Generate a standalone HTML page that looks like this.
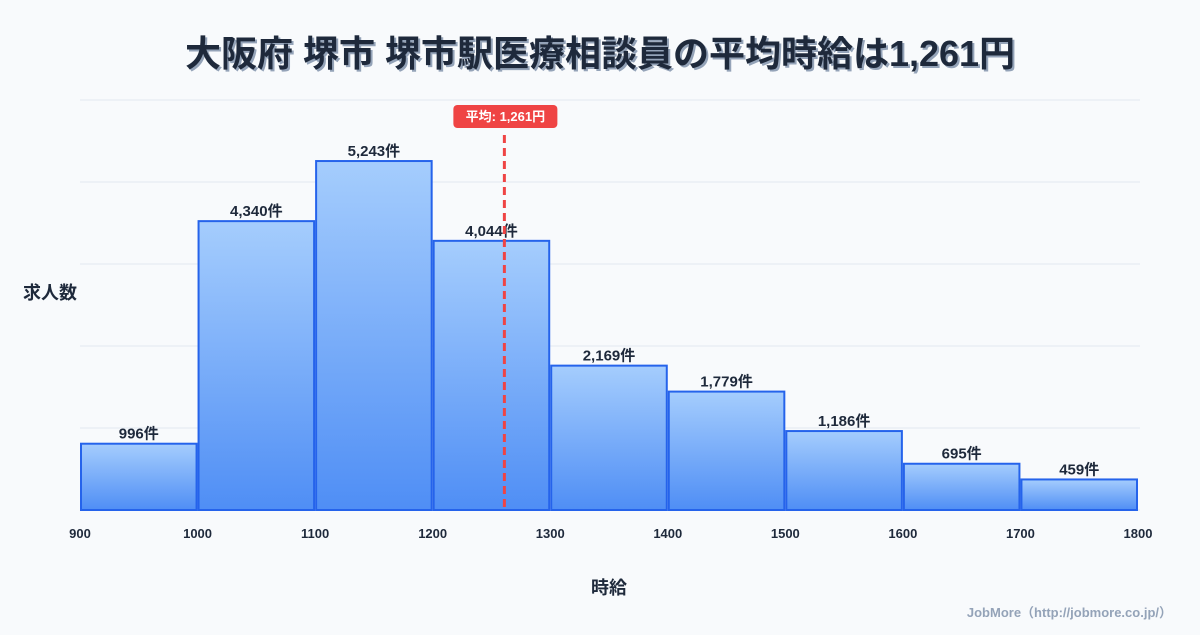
<!DOCTYPE html>
<html><head><meta charset="utf-8"><style>
body{margin:0;width:1200px;height:630px;background:#f8fafc;font-family:"Liberation Sans","Noto Sans CJK JP",sans-serif;overflow:hidden}
</style></head><body>
<svg width="1200" height="630" id="chart" xmlns="http://www.w3.org/2000/svg">
<defs><linearGradient id="g" x1="0" y1="0" x2="0" y2="1"><stop offset="0" stop-color="#a5cdfd"/><stop offset="1" stop-color="#4f8ef5"/></linearGradient></defs>
<text x="602" y="68" text-anchor="middle" font-size="36" font-weight="bold" fill="#94a3b8" font-family="Liberation Sans,Noto Sans CJK JP,sans-serif">大阪府 堺市 堺市駅医療相談員の平均時給は1,261円</text>
<text x="600" y="66" text-anchor="middle" font-size="36" font-weight="bold" fill="#1e293b" font-family="Liberation Sans,Noto Sans CJK JP,sans-serif">大阪府 堺市 堺市駅医療相談員の平均時給は1,261円</text>
<text x="50" y="299" text-anchor="middle" font-size="18" font-weight="bold" fill="#1e293b" font-family="Liberation Sans,Noto Sans CJK JP,sans-serif">求人数</text>
<text x="609" y="594" text-anchor="middle" font-size="18" font-weight="bold" fill="#1e293b" font-family="Liberation Sans,Noto Sans CJK JP,sans-serif">時給</text>
<text x="1172" y="617" text-anchor="end" font-size="13" font-weight="bold" fill="#94a3b8" font-family="Liberation Sans,Noto Sans CJK JP,sans-serif">JobMore（http://jobmore.co.jp/）</text>
<g id="grid"></g><g id="bars"></g><g id="ticks"></g><g id="avg"></g>
</svg>
<script>
const binStarts=[900,1000,1100,1200,1300,1400,1500,1600,1700];
const counts=[996,4340,5243,4044,2169,1779,1186,695,459];
const xTicks=[900,1000,1100,1200,1300,1400,1500,1600,1700,1800];
const avgValue=1261;
const binWidth=100;
const NS="http://www.w3.org/2000/svg";
const X0=80,X1=1138,XMIN=900,XMAX=1800,Y0=510,YTOP=100,YMAX=6160;
const x=v=>X0+(v-XMIN)/(XMAX-XMIN)*(X1-X0);
const y=v=>Y0-v/YMAX*(Y0-YTOP);
function mk(t,a,p){const e=document.createElementNS(NS,t);for(const k in a)e.setAttribute(k,a[k]);p.appendChild(e);return e;}
const grid=document.getElementById('grid');
for(let i=0;i<=5;i++){const gy=Y0-i*(Y0-YTOP)/5;const l=mk('line',{x1:X0,x2:X1+2,y1:gy,y2:gy,stroke:'#e2e8f0','stroke-width':1},grid);

}
const bars=document.getElementById('bars');
counts.forEach((c,i)=>{const x1=x(binStarts[i]),x2=x(binStarts[i]+binWidth);
const r=mk('rect',{x:x1+1,y:y(c),width:x2-x1-2,height:Y0-y(c),fill:'url(#g)',stroke:'#2563eb','stroke-width':2},bars);


const t=mk('text',{x:(x1+x2)/2,y:y(c)-5,'text-anchor':'middle','font-size':15,'font-weight':'bold',fill:'#1e293b'},bars);
t.textContent=c.toLocaleString('en-US')+'件';

});
const ticks=document.getElementById('ticks');
xTicks.forEach(v=>{const t=mk('text',{x:x(v),y:538,'text-anchor':'middle','font-size':13,'font-weight':'bold',fill:'#1e293b'},ticks);
t.textContent=v;

});
const avg=document.getElementById('avg');const ax=x(avgValue);
const al=mk('line',{x1:ax,x2:ax,y1:135,y2:Y0,stroke:'#ef4444','stroke-width':3,'stroke-dasharray':'8,5'},avg);


const ab=mk('rect',{x:ax-51,y:105,width:104,height:23,rx:4,fill:'#ef4444'},avg);


const at=mk('text',{x:ax+1,y:121,'text-anchor':'middle','font-size':13,'font-weight':'bold',fill:'#fff'},avg);
at.textContent='平均: '+avgValue.toLocaleString('en-US')+'円';


</script>
</body></html>
